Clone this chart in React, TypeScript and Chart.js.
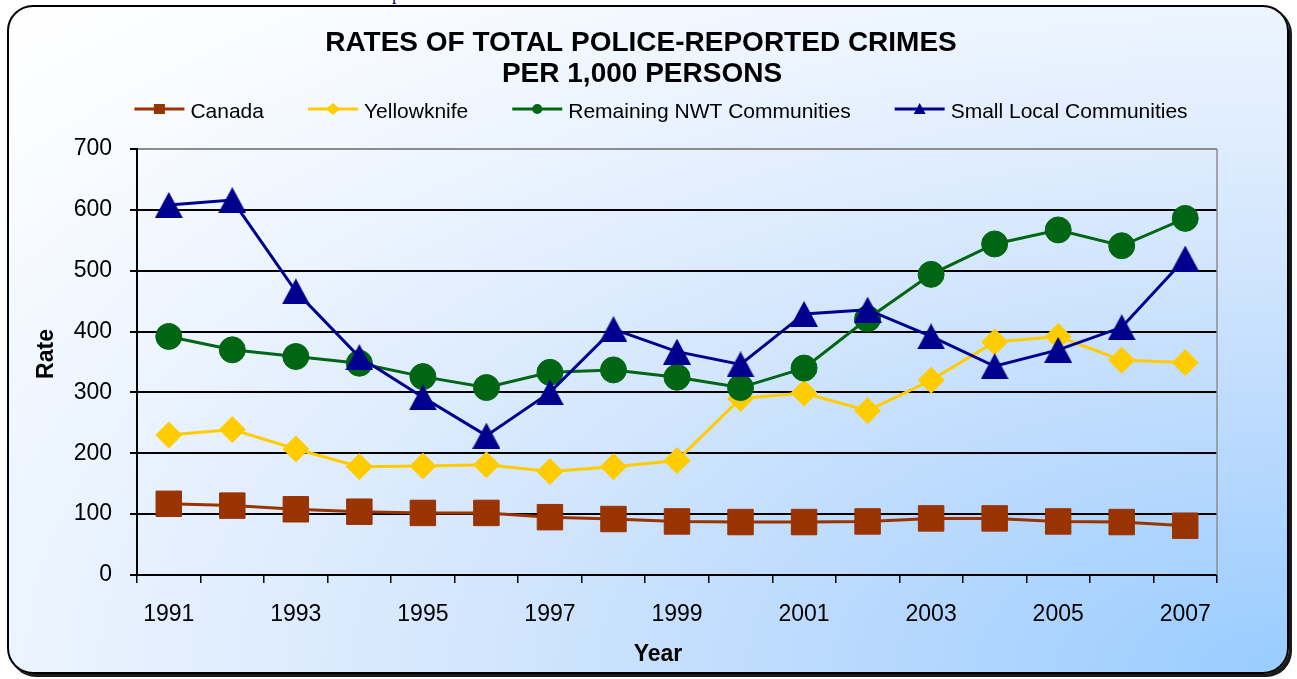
import React, { useEffect, useRef } from 'react';
import { Chart, registerables } from 'chart.js';

Chart.register(...registerables);

const years = ['1991', '1992', '1993', '1994', '1995', '1996', '1997', '1998', '1999', '2000', '2001', '2002', '2003', '2004', '2005', '2006', '2007'];
const canada = [117, 114, 108, 104, 102, 102, 95, 92, 88, 87, 87, 88, 93, 93, 88, 87, 81];
const yellowknife = [230, 239, 207, 178, 179, 181, 170, 178, 188, 290, 299, 270, 320, 383, 392, 353, 349];
const remainingNwt = [392, 370, 359, 348, 326, 308, 333, 337, 325, 308, 340, 421, 494, 544, 567, 541, 586];
const smallLocal = [608, 616, 466, 358, 292, 229, 300, 404, 367, 346, 429, 436, 392, 343, 370, 407, 520];
const yTickValues = [0, 100, 200, 300, 400, 500, 600, 700];
const seriesNames = ['Canada', 'Yellowknife', 'Remaining NWT Communities', 'Small Local Communities'];
const titleLines = ['RATES OF TOTAL POLICE-REPORTED CRIMES', 'PER 1,000 PERSONS'];
const xAxisTitle = 'Year';
const yAxisTitle = 'Rate';

const COLORS = ['#993300', '#FFCC00', '#006614', '#00008F'];
const SHAPES = ['rect', 'diamond', 'circle', 'triangle'];
const FONT = '"Liberation Sans", Arial, Helvetica, sans-serif';

function triangleImage(color: string, w: number, h: number) {
  const c = document.createElement('canvas');
  c.width = w;
  c.height = h;
  const g = c.getContext('2d')!;
  g.fillStyle = color;
  g.beginPath();
  g.moveTo(w / 2, 0);
  g.lineTo(w, h);
  g.lineTo(0, h);
  g.closePath();
  g.fill();
  return c;
}

function drawSmallMarker(ctx: CanvasRenderingContext2D, shape: string, color: string, x: number, y: number) {
  ctx.fillStyle = color;
  ctx.beginPath();
  if (shape === 'rect') {
    ctx.rect(x - 5.5, y - 5, 11, 10);
  } else if (shape === 'diamond') {
    ctx.moveTo(x, y - 6);
    ctx.lineTo(x + 7, y);
    ctx.lineTo(x, y + 6);
    ctx.lineTo(x - 7, y);
    ctx.closePath();
  } else if (shape === 'circle') {
    ctx.arc(x, y, 5, 0, Math.PI * 2);
  } else {
    ctx.moveTo(x, y - 6);
    ctx.lineTo(x + 6, y + 5);
    ctx.lineTo(x - 6, y + 5);
    ctx.closePath();
  }
  ctx.fill();
}

const decorPlugin = {
  id: 'decor',
  beforeDatasetsDraw(chart: any) {
    const { ctx, chartArea } = chart;
    ctx.save();
    ctx.strokeStyle = '#8c8c8c';
    ctx.lineWidth = 1.5;
    ctx.beginPath();
    ctx.moveTo(chartArea.right, chartArea.top);
    ctx.lineTo(chartArea.right, chartArea.bottom);
    ctx.stroke();
    ctx.restore();
  },
  afterDraw(chart: any) {
    const ctx: CanvasRenderingContext2D = chart.ctx;
    ctx.save();
    // Title
    ctx.fillStyle = '#000';
    ctx.font = `bold 28px ${FONT}`;
    ctx.textAlign = 'center';
    ctx.textBaseline = 'alphabetic';
    ctx.fillText(titleLines[0], 641, 51);
    ctx.fillText(titleLines[1], 642, 82);

    // Legend
    ctx.font = `21px ${FONT}`;
    const lineLen = 50;
    const gapTxt = 6;
    const gapItem = 44;
    const widths = seriesNames.map((n) => ctx.measureText(n).width);
    const total = widths.reduce((a, b) => a + b, 0) + seriesNames.length * (lineLen + gapTxt) + (seriesNames.length - 1) * gapItem;
    let x = 661 - total / 2;
    const ly = 109;
    seriesNames.forEach((name, i) => {
      ctx.strokeStyle = COLORS[i];
      ctx.lineWidth = 3;
      ctx.beginPath();
      ctx.moveTo(x, ly);
      ctx.lineTo(x + lineLen, ly);
      ctx.stroke();
      drawSmallMarker(ctx, SHAPES[i], COLORS[i], x + lineLen / 2, ly);
      ctx.fillStyle = '#000';
      ctx.textAlign = 'left';
      ctx.fillText(name, x + lineLen + gapTxt, 118);
      x += lineLen + gapTxt + widths[i] + gapItem;
    });

    // Axis titles
    ctx.font = `bold 23px ${FONT}`;
    ctx.textAlign = 'center';
    ctx.fillStyle = '#000';
    ctx.fillText(xAxisTitle, 658, 661);
    ctx.translate(53, 354);
    ctx.rotate(-Math.PI / 2);
    ctx.fillText(yAxisTitle, 0, 0);
    ctx.restore();
  },
};

export default function App() {
  const ref = useRef<HTMLCanvasElement>(null);

  useEffect(() => {
    const canvas = ref.current!;
    const series = [canada, yellowknife, remainingNwt, smallLocal];
    const pointStyles: any[] = ['rect', 'rectRot', 'circle', triangleImage(COLORS[3], 28, 26)];
    const radii = [18, 13, 13, 14];
    const datasets = series.map((data, i) => ({
      label: seriesNames[i],
      data,
      borderColor: COLORS[i],
      backgroundColor: COLORS[i],
      borderWidth: 3,
      pointStyle: pointStyles[i],
      pointRadius: radii[i],
      pointHoverRadius: radii[i],
      pointBorderWidth: 1,
      pointBorderColor: COLORS[i],
      pointBackgroundColor: COLORS[i],
      tension: 0,
      order: 4 - i,
      clip: false as any,
    }));

    const chart = new Chart(canvas, {
      type: 'line',
      data: { labels: years, datasets },
      plugins: [decorPlugin],
      options: {
        responsive: false,
        animation: false,
        layout: { padding: { top: 149, left: 27, right: 80, bottom: 0 } },
        plugins: {
          legend: { display: false },
          title: { display: false },
          tooltip: { enabled: false },
        },
        scales: {
          x: {
            type: 'category',
            offset: true,
            grid: {
              display: true,
              drawOnChartArea: false,
              drawTicks: true,
              tickLength: 8,
              offset: true,
              color: '#000',
              lineWidth: 1.5,
            },
            border: { display: true, color: '#000', width: 2 },
            ticks: {
              autoSkip: false,
              maxRotation: 0,
              minRotation: 0,
              padding: 18,
              color: '#000',
              font: { family: FONT, size: 23 },
              callback: (_v: any, i: number) => (i % 2 === 0 ? years[i] : ''),
            },
            afterFit: (s: any) => {
              s.height = 104;
            },
          },
          y: {
            min: 0,
            max: 700,
            afterBuildTicks: (s: any) => {
              s.ticks = yTickValues.map((v) => ({ value: v }));
            },
            ticks: {
              padding: 18,
              color: '#000',
              font: { family: FONT, size: 23 },
            },
            grid: {
              color: (c: any) => (c.tick && c.tick.value === 700 ? '#8c8c8c' : '#000'),
              lineWidth: 2,
              tickLength: 7,
              tickColor: '#000',
              drawTicks: true,
            },
            border: { display: true, color: '#000', width: 2 },
            afterFit: (s: any) => {
              s.width = 110;
            },
          },
        },
      },
    } as any);
    return () => chart.destroy();
  }, []);

  return (
    <div style={{ position: 'fixed', left: 0, top: 0, width: 1297, height: 679, overflow: 'hidden', background: '#ffffff' }}>
      <span
        style={{
          position: 'absolute',
          left: 392,
          top: -15,
          fontFamily: '"Liberation Serif", "Times New Roman", serif',
          fontSize: 18,
          lineHeight: '18px',
          color: '#00008B',
        }}
      >
        p
      </span>
      <div
        style={{
          position: 'absolute',
          left: 7,
          top: 5,
          width: 1282,
          height: 669,
          boxSizing: 'border-box',
          border: '2px solid #000',
          borderRadius: 26,
          boxShadow: '3px 3px 0 #1a1a1a',
          background:
            'radial-gradient(ellipse farthest-corner at 100% 100%, #99ccff 0%, #b6d8fe 22%, #d3e6fd 45%, #eaf3ff 68%, #f8fbff 85%, #ffffff 100%)',
        }}
      />
      <canvas ref={ref} width={1297} height={679} style={{ position: 'absolute', left: 0, top: 0, width: 1297, height: 679 }} />
    </div>
  );
}
